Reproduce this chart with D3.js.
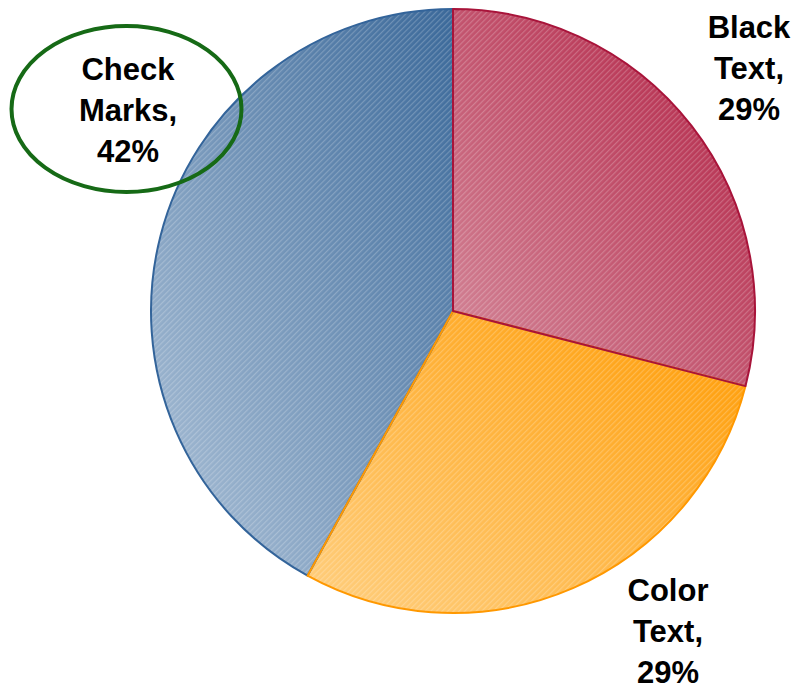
<!DOCTYPE html>
<html><head><meta charset="utf-8">
<script src="https://cdn.jsdelivr.net/npm/d3@7"></script>
<style>html,body{margin:0;padding:0;background:#fff;}svg{display:block;}</style>
</head><body>
<svg id="chart" width="796" height="688"></svg>
<script>
const categories = ["Black Text", "Color Text", "Check Marks"];
const values = [29, 29, 42];
const labelLines = [["Black", "Text,", "29%"], ["Color", "Text,", "29%"], ["Check", "Marks,", "42%"]];
const darkColors = ["#b01c40", "#ff9a00", "#3a6899"];
const lightColors = ["#d4899a", "#ffcf80", "#adc2d8"];
const strokeColors = ["#a8143a", "#ff9800", "#33649a"];
// label anchor layout (center x, first baseline y)
const labelPos = [[749, 38], [668, 601], [128, 80]];

const svg = d3.select("#chart");
const cx = 453, cy = 311, R = 302;
const defs = svg.append("defs");

darkColors.forEach((c, i) => {
  const g = defs.append("linearGradient").attr("id", "grad" + i)
    .attr("x1", 1).attr("y1", 0).attr("x2", 0).attr("y2", 1);
  g.append("stop").attr("offset", "0%").attr("stop-color", c);
  g.append("stop").attr("offset", "100%").attr("stop-color", lightColors[i]);
});
const pat = defs.append("pattern").attr("id", "hatch")
  .attr("patternUnits", "userSpaceOnUse").attr("width", 4).attr("height", 4)
  .attr("patternTransform", "rotate(45)");
pat.append("rect").attr("x", 0).attr("y", 0).attr("width", 1.2).attr("height", 4)
  .attr("fill", "#ffffff").attr("fill-opacity", 0.22);

const pie = d3.pie().sort(null).value(d => d)(values);
const arc = d3.arc().innerRadius(0).outerRadius(R);
const g = svg.append("g").attr("transform", `translate(${cx},${cy})`);

g.selectAll("path.slice").data(pie).join("path").attr("class", "slice")
  .attr("d", arc).attr("fill", (d, i) => `url(#grad${i})`);
g.selectAll("path.hatch").data(pie).join("path").attr("class", "hatch")
  .attr("d", arc).attr("fill", "url(#hatch)");
const outl = pie.map((d, i) => ({d, i})).reverse();
g.selectAll("path.outline").data(outl).join("path").attr("class", "outline")
  .attr("d", o => arc(o.d)).attr("fill", "none")
  .attr("stroke", o => strokeColors[o.i]).attr("stroke-width", 2).attr("stroke-linejoin", "round");

svg.append("ellipse").attr("cx", 126.5).attr("cy", 109).attr("rx", 115).attr("ry", 83)
  .attr("fill", "none").attr("stroke", "#166a16").attr("stroke-width", 4);

categories.forEach((c, i) => {
  const t = svg.append("text").attr("text-anchor", "middle")
    .attr("font-family", "Liberation Sans, Arial, sans-serif")
    .attr("font-weight", "bold").attr("font-size", 31).attr("fill", "#000");
  labelLines[i].forEach((ln, j) => {
    t.append("tspan").attr("x", labelPos[i][0]).attr("y", labelPos[i][1] + j * 41).text(ln);
  });
});
</script>
</body></html>
